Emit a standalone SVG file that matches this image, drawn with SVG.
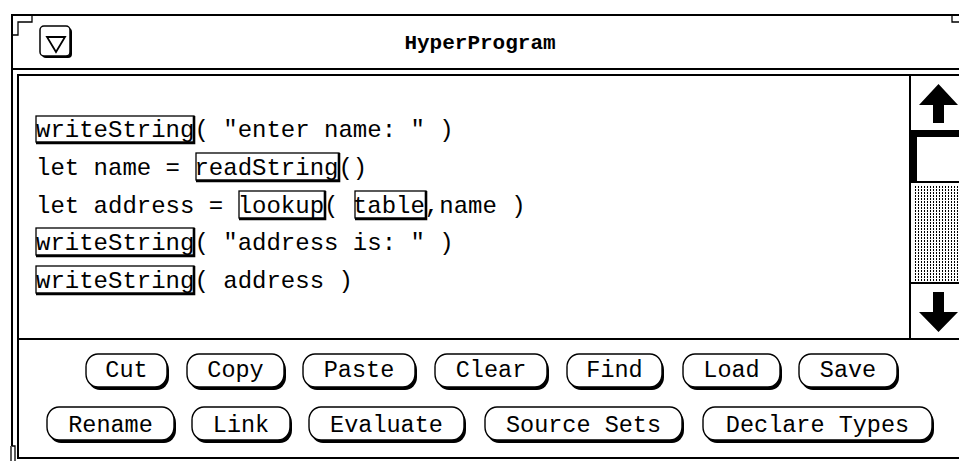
<svg xmlns="http://www.w3.org/2000/svg" width="959" height="461" viewBox="0 0 959 461">
<style>
.ln{stroke:#000;stroke-width:2;fill:none}
.thin{stroke:#000;stroke-width:1.3;fill:none}
.code{font-family:"Liberation Mono","DejaVu Sans Mono",monospace;font-size:24px;fill:#000;white-space:pre}
.title{font-family:"Liberation Mono","DejaVu Sans Mono",monospace;font-size:21px;font-weight:bold;fill:#000}
.btxt{font-family:"Liberation Mono","DejaVu Sans Mono",monospace;font-size:23.5px;fill:#000;text-anchor:middle}
.bbox{fill:none;stroke:#000;stroke-width:1.3}
.bsh{fill:none;stroke:#000;stroke-width:2.6}
.bsd{fill:#000}
.bbody{fill:#fff;stroke:#000;stroke-width:1.4}
.arrow{fill:#000}
</style>
<defs>
<pattern id="stip" width="3" height="3" patternUnits="userSpaceOnUse">
<rect width="3" height="3" fill="#fff"/>
<rect width="1" height="2" fill="#000"/>
</pattern>
</defs>
<rect width="959" height="461" fill="#fff"/>

<g id="frame">
<line class="ln" x1="11" y1="15" x2="959" y2="15"/>
<line class="ln" x1="12" y1="14" x2="12" y2="446"/>
<polyline class="thin" points="32,16 32,22 18,22 18,35 13,35"/>
<polyline class="thin" points="952,16 952,22 959,22"/>
<polyline class="thin" points="11,446 11,461"/>
<polyline class="thin" points="12,446 15,446 15,461"/>
<line class="ln" x1="12" y1="69" x2="959" y2="69"/>
<line class="ln" x1="17" y1="75" x2="959" y2="75"/>
<line class="ln" x1="18" y1="74" x2="18" y2="459"/>
<line class="ln" x1="17" y1="339" x2="959" y2="339"/>
<line class="ln" x1="17" y1="458" x2="959" y2="458"/>
</g>

<g id="title-bar">
<g id="menu-icon">
<rect x="42" y="28" width="30" height="30" rx="4" fill="#000"/>
<rect x="40" y="26" width="30" height="30" rx="4" fill="#fff" stroke="#000" stroke-width="1.5"/>
<polygon points="47,37 65,37 56,52" fill="none" stroke="#000" stroke-width="1.8"/>
</g>
<text class="title" x="480" y="49" text-anchor="middle">HyperProgram</text>
</g>

<g id="editor">
<text class="code" x="36" y="137">writeString( "enter name: " )</text>
<text class="code" x="36" y="175">let name = readString()</text>
<text class="code" x="36" y="213">let address = lookup( table,name )</text>
<text class="code" x="36" y="250">writeString( "address is: " )</text>
<text class="code" x="36" y="288">writeString( address )</text>

<g id="link-writeString-1">
<rect class="bbox" x="36" y="116" width="158" height="26"/>
<path class="bsh" d="M194,116 V143 H36"/>
</g>
<g id="link-readString">
<rect class="bbox" x="196" y="153" width="143" height="27"/>
<path class="bsh" d="M339,153 V181 H196"/>
</g>
<g id="link-lookup">
<rect class="bbox" x="239" y="191" width="86" height="27"/>
<path class="bsh" d="M325,191 V219 H239"/>
</g>
<g id="link-table">
<rect class="bbox" x="355" y="191" width="71" height="27"/>
<path class="bsh" d="M426,191 V219 H355"/>
</g>
<g id="link-writeString-2">
<rect class="bbox" x="36" y="228" width="158" height="27"/>
<path class="bsh" d="M194,228 V256 H36"/>
</g>
<g id="link-writeString-3">
<rect class="bbox" x="36" y="266" width="158" height="27"/>
<path class="bsh" d="M194,266 V294 H36"/>
</g>
</g>

<g id="scrollbar">
<line class="ln" x1="910" y1="75" x2="910" y2="339"/>
<polygon class="arrow" points="938.5,84 958,105 944,105 944,123 933,123 933,105 919,105"/>
<rect x="909" y="130" width="50" height="7" fill="#000"/>
<rect x="909" y="130" width="8" height="53" fill="#000"/>
<line class="ln" x1="910" y1="182" x2="959" y2="182"/>
<rect x="913" y="185" width="46" height="96" fill="url(#stip)"/>
<line class="ln" x1="910" y1="283" x2="959" y2="283"/>
<polygon class="arrow" points="933,292 944,292 944,312 958,312 938.5,332 919,312 933,312"/>
</g>

<g id="btn-cut"><rect class="bsd" x="88" y="357" width="81" height="33" rx="12" ry="13"/><rect class="bbody" x="86" y="354" width="81" height="33" rx="12" ry="13"/><text class="btxt" x="126.5" y="377">Cut</text></g>
<g id="btn-copy"><rect class="bsd" x="189" y="357" width="97" height="33" rx="12" ry="13"/><rect class="bbody" x="187" y="354" width="97" height="33" rx="12" ry="13"/><text class="btxt" x="235.5" y="377">Copy</text></g>
<g id="btn-paste"><rect class="bsd" x="305" y="357" width="112" height="33" rx="12" ry="13"/><rect class="bbody" x="303" y="354" width="112" height="33" rx="12" ry="13"/><text class="btxt" x="359" y="377">Paste</text></g>
<g id="btn-clear"><rect class="bsd" x="437" y="357" width="112" height="33" rx="12" ry="13"/><rect class="bbody" x="435" y="354" width="112" height="33" rx="12" ry="13"/><text class="btxt" x="491" y="377">Clear</text></g>
<g id="btn-find"><rect class="bsd" x="569" y="357" width="95" height="33" rx="12" ry="13"/><rect class="bbody" x="567" y="354" width="95" height="33" rx="12" ry="13"/><text class="btxt" x="614.5" y="377">Find</text></g>
<g id="btn-load"><rect class="bsd" x="685" y="357" width="97" height="33" rx="12" ry="13"/><rect class="bbody" x="683" y="354" width="97" height="33" rx="12" ry="13"/><text class="btxt" x="731.5" y="377">Load</text></g>
<g id="btn-save"><rect class="bsd" x="801" y="357" width="98" height="33" rx="12" ry="13"/><rect class="bbody" x="799" y="354" width="98" height="33" rx="12" ry="13"/><text class="btxt" x="848" y="377">Save</text></g>

<g id="btn-rename"><rect class="bsd" x="49" y="410" width="127" height="33" rx="12" ry="13"/><rect class="bbody" x="47" y="407" width="127" height="33" rx="12" ry="13"/><text class="btxt" x="110.5" y="432">Rename</text></g>
<g id="btn-link"><rect class="bsd" x="194" y="410" width="98" height="33" rx="12" ry="13"/><rect class="bbody" x="192" y="407" width="98" height="33" rx="12" ry="13"/><text class="btxt" x="241" y="432">Link</text></g>
<g id="btn-evaluate"><rect class="bsd" x="311" y="410" width="155" height="33" rx="12" ry="13"/><rect class="bbody" x="309" y="407" width="155" height="33" rx="12" ry="13"/><text class="btxt" x="386.5" y="432">Evaluate</text></g>
<g id="btn-source-sets"><rect class="bsd" x="487" y="410" width="197" height="33" rx="12" ry="13"/><rect class="bbody" x="485" y="407" width="197" height="33" rx="12" ry="13"/><text class="btxt" x="583.5" y="432">Source Sets</text></g>
<g id="btn-declare-types"><rect class="bsd" x="705" y="410" width="229" height="33" rx="12" ry="13"/><rect class="bbody" x="703" y="407" width="229" height="33" rx="12" ry="13"/><text class="btxt" x="817.5" y="432">Declare Types</text></g>
</svg>
